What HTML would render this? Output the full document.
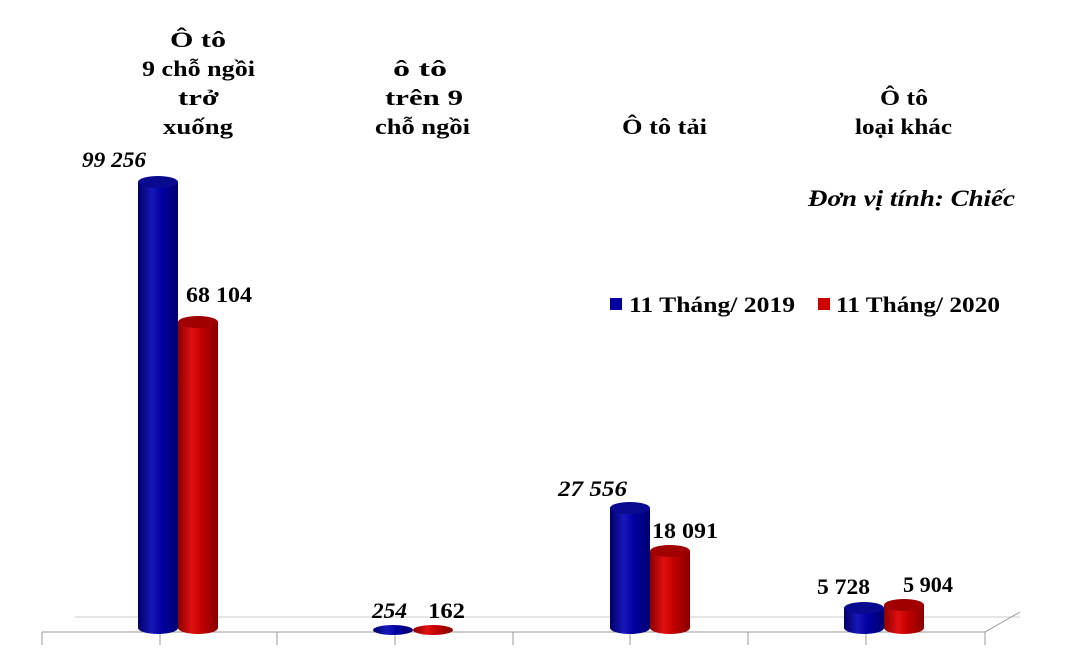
<!DOCTYPE html>
<html><head><meta charset="utf-8"><style>
html,body{margin:0;padding:0;background:#fff}
svg{display:block}
text{font-family:"Liberation Serif",serif;font-weight:bold}
</style></head><body>
<svg width="1075" height="649" viewBox="0 0 1075 649">
<defs>
<linearGradient id="b" x1="0" x2="1" y1="0" y2="0">
<stop offset="0" stop-color="#00006a"/><stop offset="0.35" stop-color="#1818b8"/><stop offset="0.6" stop-color="#0000a0"/><stop offset="1" stop-color="#000070"/></linearGradient>
<linearGradient id="r" x1="0" x2="1" y1="0" y2="0">
<stop offset="0" stop-color="#8a0000"/><stop offset="0.35" stop-color="#e01010"/><stop offset="0.6" stop-color="#c00000"/><stop offset="1" stop-color="#880000"/></linearGradient>
</defs>
<polyline points="75,617 1020,617" stroke="#ccc" fill="none"/>
<polyline points="42,632 985,632 1020,612" stroke="#999" fill="none"/>
<g stroke="#999">
<line x1="42" y1="632" x2="42" y2="645"/><line x1="160" y1="632" x2="160" y2="645"/><line x1="277" y1="632" x2="277" y2="645"/><line x1="395" y1="632" x2="395" y2="645"/><line x1="513" y1="632" x2="513" y2="645"/><line x1="630" y1="632" x2="630" y2="645"/><line x1="748" y1="632" x2="748" y2="645"/><line x1="866" y1="632" x2="866" y2="645"/><line x1="985" y1="632" x2="985" y2="645"/>
</g>
<g>
<path d="M138,182 V628 A20,6 0 0 0 178,628 V182 Z" fill="url(#b)"/><ellipse cx="158" cy="182" rx="20" ry="6" fill="#0a0a90"/>
<path d="M178,322 V628 A20,6 0 0 0 218,628 V322 Z" fill="url(#r)"/><ellipse cx="198" cy="322" rx="20" ry="6" fill="#a00000"/>
<ellipse cx="393" cy="630" rx="20" ry="5" fill="url(#b)"/>
<ellipse cx="433" cy="630" rx="20" ry="5" fill="url(#r)"/>
<path d="M610,508 V628 A20,6 0 0 0 650,628 V508 Z" fill="url(#b)"/><ellipse cx="630" cy="508" rx="20" ry="6" fill="#0a0a90"/>
<path d="M650,551 V628 A20,6 0 0 0 690,628 V551 Z" fill="url(#r)"/><ellipse cx="670" cy="551" rx="20" ry="6" fill="#a00000"/>
<path d="M844,608 V628 A20,6 0 0 0 884,628 V608 Z" fill="url(#b)"/><ellipse cx="864" cy="608" rx="20" ry="6" fill="#0a0a90"/>
<path d="M884,605 V628 A20,6 0 0 0 924,628 V605 Z" fill="url(#r)"/><ellipse cx="904" cy="605" rx="20" ry="6" fill="#a00000"/>
</g>
<g font-size="22" lengthAdjust="spacingAndGlyphs">
<text x="82" y="167" textLength="64" lengthAdjust="spacingAndGlyphs" font-style="italic">99 256</text>
<text x="186" y="302" textLength="66" lengthAdjust="spacingAndGlyphs">68 104</text>
<text x="372" y="618" textLength="35" lengthAdjust="spacingAndGlyphs" font-style="italic">254</text>
<text x="428" y="618" textLength="37" lengthAdjust="spacingAndGlyphs">162</text>
<text x="558" y="496" textLength="69" lengthAdjust="spacingAndGlyphs" font-style="italic">27 556</text>
<text x="652" y="538" textLength="66" lengthAdjust="spacingAndGlyphs">18 091</text>
<text x="817" y="594" textLength="53" lengthAdjust="spacingAndGlyphs">5 728</text>
<text x="903" y="592" textLength="50" lengthAdjust="spacingAndGlyphs">5 904</text>
</g>
<g font-size="22">
<text x="170" y="47" textLength="56" lengthAdjust="spacingAndGlyphs">Ô tô</text>
<text x="142" y="76" textLength="113" lengthAdjust="spacingAndGlyphs">9 chỗ ngồi</text>
<text x="178" y="105" textLength="41" lengthAdjust="spacingAndGlyphs">trở</text>
<text x="163" y="134" textLength="70" lengthAdjust="spacingAndGlyphs">xuống</text>
<text x="393" y="76" textLength="54" lengthAdjust="spacingAndGlyphs">ô tô</text>
<text x="385" y="105" textLength="78" lengthAdjust="spacingAndGlyphs">trên 9</text>
<text x="375" y="134" textLength="95" lengthAdjust="spacingAndGlyphs">chỗ ngồi</text>
<text x="622" y="134" textLength="85" lengthAdjust="spacingAndGlyphs">Ô tô tải</text>
<text x="880" y="105" textLength="48" lengthAdjust="spacingAndGlyphs">Ô tô</text>
<text x="855" y="134" textLength="97" lengthAdjust="spacingAndGlyphs">loại khác</text>
</g>
<text x="808" y="206" font-size="23" font-style="italic" textLength="207" lengthAdjust="spacingAndGlyphs">Đơn vị tính: Chiếc</text>
<rect x="610" y="298" width="12" height="12" fill="#0000a0"/>
<text x="629" y="312" font-size="22" textLength="166" lengthAdjust="spacingAndGlyphs">11 Tháng/ 2019</text>
<rect x="818" y="298" width="12" height="12" fill="#d00000"/>
<text x="836" y="312" font-size="22" textLength="164" lengthAdjust="spacingAndGlyphs">11 Tháng/ 2020</text>
</svg>
</body></html>
